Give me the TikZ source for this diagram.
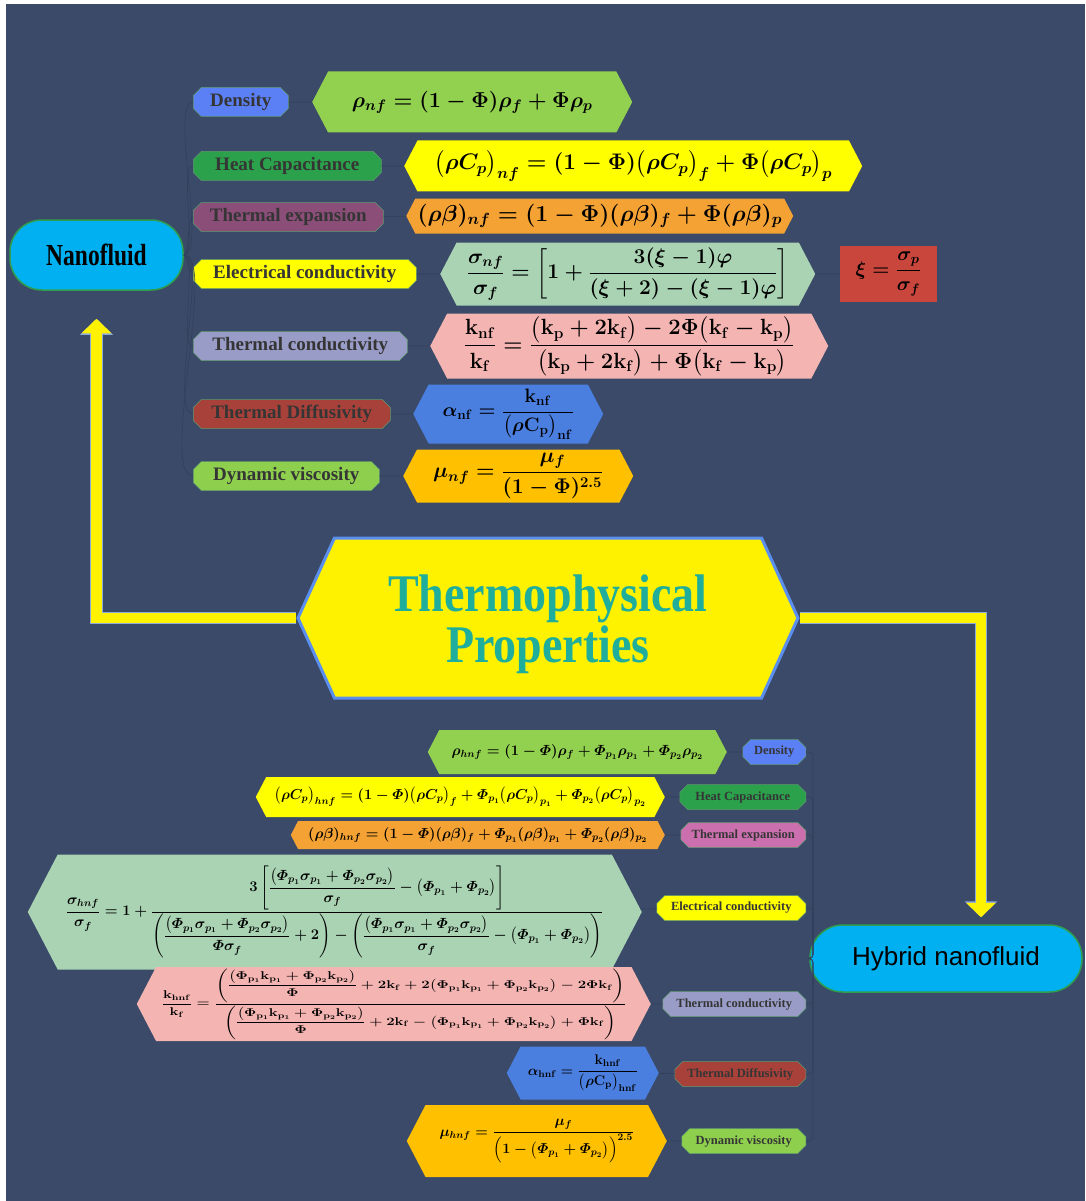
\RequirePackage{fix-cm}
\documentclass[tikz,border=0pt]{standalone}
\usepackage{amsmath,amssymb}
\usepackage{fontspec}
\setmainfont{Liberation Serif}
\newfontfamily\hybfont{Liberation Sans}
\usepackage{tikz}
\usetikzlibrary{arrows.meta,positioning,shapes.misc,shapes.symbols}

\definecolor{bgc}{HTML}{3A4A68}
\definecolor{linkc}{HTML}{33405C}
\definecolor{lblline}{HTML}{5E9A6E}
\definecolor{lbltext}{HTML}{353535}
\definecolor{arrowedge}{HTML}{8EA9DB}
\definecolor{pillc}{HTML}{00B0F0}
\definecolor{pilledge}{HTML}{2F9E4F}
\definecolor{thermoedge}{HTML}{5B8FEF}
\definecolor{thermotext}{HTML}{1EAE9B}
% label colours
\definecolor{cDens}{HTML}{5B7FF5}
\definecolor{cHeat}{HTML}{2BA14B}
\definecolor{cExpA}{HTML}{8B4E78}
\definecolor{cExpB}{HTML}{CC6FAE}
\definecolor{cElec}{HTML}{FFFF00}
\definecolor{cCond}{HTML}{9A9CC8}
\definecolor{cDiff}{HTML}{A8413A}
\definecolor{cVisc}{HTML}{8ED04E}
% formula colours
\definecolor{eDens}{HTML}{92D050}
\definecolor{eHeat}{HTML}{FFFF00}
\definecolor{eExpn}{HTML}{F4A234}
\definecolor{eElec}{HTML}{A9D3B3}
\definecolor{eXi}{HTML}{C9463D}
\definecolor{eCond}{HTML}{F4B5B2}
\definecolor{eDiff}{HTML}{4B7FDF}
\definecolor{eVisc}{HTML}{FFC000}

\newcommand{\kk}[1]{\mathbf{k}_{\mathbf{#1}}}
\newcommand{\Pp}[1]{\varPhi_{p_{#1}}}
\newcommand{\Pk}[1]{\Phi_{\mathbf{p}_{#1}}\mathbf{k}_{\mathbf{p}_{#1}}}
\newcommand{\eqfont}[1]{\boldmath\fontsize{#1}{#1}\selectfont}

\begin{document}
\begin{tikzpicture}[
  x=1pt,y=-1pt,
  lbl/.style={chamfered rectangle,chamfered rectangle xsep=4pt,chamfered rectangle ysep=4pt,
    draw=lblline,line width=0.5pt,text=lbltext,inner sep=0pt,minimum height=29pt,
    font=\fontsize{19}{21}\selectfont\bfseries},
  hlbl/.style={lbl,minimum height=25pt,font=\fontsize{12.5}{14}\selectfont\bfseries},
  eq/.style={signal,signal to=west and east,signal pointer angle=125,inner sep=0pt,
    text=black,font=\eqfont{20}},
  heq/.style={eq,font=\eqfont{14.5}},
  pill/.style={draw=pilledge,line width=1.5pt,fill=pillc,rounded corners=32pt},
  link/.style={draw=linkc,line width=0.6pt},
  yedge/.style={line width=12.5pt,draw=arrowedge,-{Triangle[width=32pt,length=16pt]}},
  yarrow/.style={line width=10.5pt,draw=yellow,-{Triangle[width=29pt,length=14.5pt]}}
]
\fill[white] (0,0) rectangle (1085,1201);
\fill[bgc] (6,4) rectangle (1085,1201);

% centre
\node[signal,signal to=west and east,signal pointer angle=131,fill=yellow,draw=thermoedge,
  line width=3pt,minimum width=500pt,minimum height=160pt,inner sep=0pt,
  text=thermotext,font=\fontsize{46}{50}\selectfont\bfseries] (thermo) at (548,618)
  {\raisebox{-8pt}[\height][\depth]{\begin{tabular}{@{}c@{}}\scalebox{1}[1.15]{Thermophysical}\\\scalebox{1}[1.15]{Properties}\end{tabular}}};

\node[pill,minimum width=173pt,minimum height=70pt,font=\fontsize{23.5}{26}\selectfont\bfseries] (nano) at (96.5,255)
  {\scalebox{1}[1.3]{Nanofluid}};
\node[pill,minimum width=272pt,minimum height=67pt,rounded corners=33pt,font=\hybfont\fontsize{26}{30}\selectfont] (hyb) at (946,958.5)
  {Hybrid nanofluid};

% nanofluid properties
\node[lbl,fill=cDens,minimum width=95pt,anchor=west] (dens) at (193,102) {Density};
\node[lbl,fill=cHeat,minimum width=188pt,anchor=west] (heat) at (193,166) {Heat Capacitance};
\node[lbl,fill=cExpA,minimum width=190pt,anchor=west] (expn) at (193,217) {Thermal expansion};
\node[lbl,fill=cElec,minimum width=223pt,anchor=west] (elec) at (193,274) {Electrical conductivity};
\node[lbl,fill=cCond,minimum width=214pt,anchor=west] (cond) at (193,346) {Thermal conductivity};
\node[lbl,fill=cDiff,minimum width=197pt,anchor=west] (diff) at (193,414) {Thermal Diffusivity};
\node[lbl,fill=cVisc,minimum width=186pt,anchor=west] (visc) at (193,476) {Dynamic viscosity};

\node[eq,fill=eDens,minimum width=320pt,minimum height=61pt,anchor=west,font=\eqfont{21.6}] (dens-eq) at (312,102)
  {$\rho_{nf}=(1-\Phi)\rho_f+\Phi\rho_p$};
\node[eq,fill=eHeat,minimum width=458pt,minimum height=51pt,anchor=west,font=\eqfont{22.5}] (heat-eq) at (404,166)
  {$\bigl(\rho C_p\bigr)_{nf}=(1-\Phi)\bigl(\rho C_p\bigr)_f+\Phi\bigl(\rho C_p\bigr)_p$};
\node[eq,fill=eExpn,minimum width=387pt,minimum height=35pt,anchor=west,font=\eqfont{23}] (expn-eq) at (406,216)
  {$(\rho\beta)_{nf}=(1-\Phi)(\rho\beta)_f+\Phi(\rho\beta)_p$};
\node[eq,fill=eElec,minimum width=375pt,minimum height=63pt,anchor=west,font=\eqfont{21}] (elec-eq) at (440,274)
  {$\dfrac{\sigma_{nf}}{\sigma_f}=\left[1+\dfrac{3(\xi-1)\varphi}{(\xi+2)-(\xi-1)\varphi}\right]$};
\node[rectangle,fill=eXi,minimum width=97pt,minimum height=56pt,inner sep=0pt,font=\eqfont{19.5}] (xi) at (888.5,274)
  {$\xi=\dfrac{\sigma_p}{\sigma_f}$};
\node[eq,fill=eCond,minimum width=398pt,minimum height=65pt,anchor=west,font=\eqfont{22}] (cond-eq) at (430,346)
  {$\dfrac{\kk{nf}}{\kk{f}}=\dfrac{\bigl(\kk{p}+2\kk{f}\bigr)-2\Phi\bigl(\kk{f}-\kk{p}\bigr)}{\bigl(\kk{p}+2\kk{f}\bigr)+\Phi\bigl(\kk{f}-\kk{p}\bigr)}$};
\node[eq,fill=eDiff,minimum width=190pt,minimum height=59pt,anchor=west,font=\eqfont{19.4}] (diff-eq) at (413,414)
  {$\alpha_{\mathbf{nf}}=\dfrac{\kk{nf}}{\bigl(\rho\mathbf{C}_{\mathbf{p}}\bigr)_{\mathbf{nf}}}$};
\node[eq,fill=eVisc,minimum width=230pt,minimum height=53pt,anchor=west,font=\eqfont{21.2}] (visc-eq) at (403,476)
  {$\mu_{nf}=\dfrac{\mu_f}{(1-\Phi)^{2.5}}$};

% hybrid nanofluid properties
\node[hlbl,fill=cDens,minimum width=63pt,anchor=east] (hdens) at (806,752) {Density};
\node[hlbl,fill=cHeat,minimum width=126pt,anchor=east] (hheat) at (806,797) {Heat Capacitance};
\node[hlbl,fill=cExpB,minimum width=125pt,anchor=east] (hexpn) at (806,835) {Thermal expansion};
\node[hlbl,fill=cElec,minimum width=149pt,anchor=east] (helec) at (806,908) {Electrical conductivity};
\node[hlbl,fill=cCond,minimum width=143pt,anchor=east] (hcond) at (806,1004) {Thermal conductivity};
\node[hlbl,fill=cDiff,minimum width=131pt,anchor=east] (hdiff) at (806,1074) {Thermal Diffusivity};
\node[hlbl,fill=cVisc,minimum width=124pt,anchor=east] (hvisc) at (806,1141) {Dynamic viscosity};

\node[heq,fill=eDens,minimum width=299pt,minimum height=44pt,anchor=east,font=\eqfont{14.7}] (hdens-eq) at (727,752)
  {$\rho_{hnf}=(1-\varPhi)\rho_f+\Pp1\rho_{p_1}+\Pp2\rho_{p_2}$};
\node[heq,fill=eHeat,minimum width=409pt,minimum height=40pt,anchor=east,font=\eqfont{14.4}] (hheat-eq) at (665,797)
  {$\bigl(\rho C_p\bigr)_{hnf}=(1-\varPhi)\bigl(\rho C_p\bigr)_f+\Pp1\bigl(\rho C_p\bigr)_{p_1}+\Pp2\bigl(\rho C_p\bigr)_{p_2}$};
\node[heq,fill=eExpn,minimum width=374pt,minimum height=28pt,anchor=east] (hexpn-eq) at (665,835)
  {$(\rho\beta)_{hnf}=(1-\varPhi)(\rho\beta)_f+\Pp1(\rho\beta)_{p_1}+\Pp2(\rho\beta)_{p_2}$};
\node[heq,fill=eElec,minimum width=614pt,minimum height=115pt,anchor=east,font=\eqfont{14.7}] (helec-eq) at (642,912)
  {$\dfrac{\sigma_{hnf}}{\sigma_f}=1+\dfrac{3\left[\dfrac{\bigl(\Pp1\sigma_{p_1}+\Pp2\sigma_{p_2}\bigr)}{\sigma_f}-\bigl(\Pp1+\Pp2\bigr)\right]}{\left(\dfrac{\bigl(\Pp1\sigma_{p_1}+\Pp2\sigma_{p_2}\bigr)}{\varPhi\sigma_f}+2\right)-\left(\dfrac{\bigl(\Pp1\sigma_{p_1}+\Pp2\sigma_{p_2}\bigr)}{\sigma_f}-\bigl(\Pp1+\Pp2\bigr)\right)}$};
\node[heq,fill=eCond,minimum width=514pt,minimum height=74pt,anchor=east,font=\eqfont{15}] (hcond-eq) at (651,1004)
  {\scalebox{1}[0.75]{$\dfrac{\kk{hnf}}{\kk{f}}=\dfrac{\left(\dfrac{\bigl(\Pk1+\Pk2\bigr)}{\Phi}+2\kk{f}+2\bigl(\Pk1+\Pk2\bigr)-2\Phi\kk{f}\right)}{\left(\dfrac{\bigl(\Pk1+\Pk2\bigr)}{\Phi}+2\kk{f}-\bigl(\Pk1+\Pk2\bigr)+\Phi\kk{f}\right)}$}};
\node[heq,fill=eDiff,minimum width=152pt,minimum height=53pt,anchor=east,font=\eqfont{14}] (hdiff-eq) at (659,1073)
  {$\alpha_{\mathbf{hnf}}=\dfrac{\kk{hnf}}{\bigl(\rho\mathbf{C}_{\mathbf{p}}\bigr)_{\mathbf{hnf}}}$};
\node[heq,fill=eVisc,minimum width=260pt,minimum height=72pt,anchor=east,font=\eqfont{14.4}] (hvisc-eq) at (667,1141)
  {$\mu_{hnf}=\dfrac{\mu_f}{\Bigl(1-\bigl(\Pp1+\Pp2\bigr)\Bigr)^{2.5}}$};

% thin links
\foreach \n in {dens,heat,expn,elec,cond,diff,visc} {
  \draw[link] (nano.east) to[out=0,in=180,looseness=0.4] (\n.west);
  \draw[link] (\n) -- (\n-eq);
  \draw[link,rounded corners=4pt] (h\n.east) -- ++(7,0) |- (hyb.west);
  \draw[link] (h\n) -- (h\n-eq);
}
\draw[link] (elec-eq) -- (xi);

% big yellow arrows
\draw[yedge] (thermo.west) -| ([yshift=-28pt]nano.south);
\draw[yarrow] (thermo.west) -| ([yshift=-28pt]nano.south);
\draw[yedge] (thermo.east) -| ([xshift=35pt,yshift=7pt]hyb.north);
\draw[yarrow] (thermo.east) -| ([xshift=35pt,yshift=7pt]hyb.north);
\end{tikzpicture}
\end{document}
